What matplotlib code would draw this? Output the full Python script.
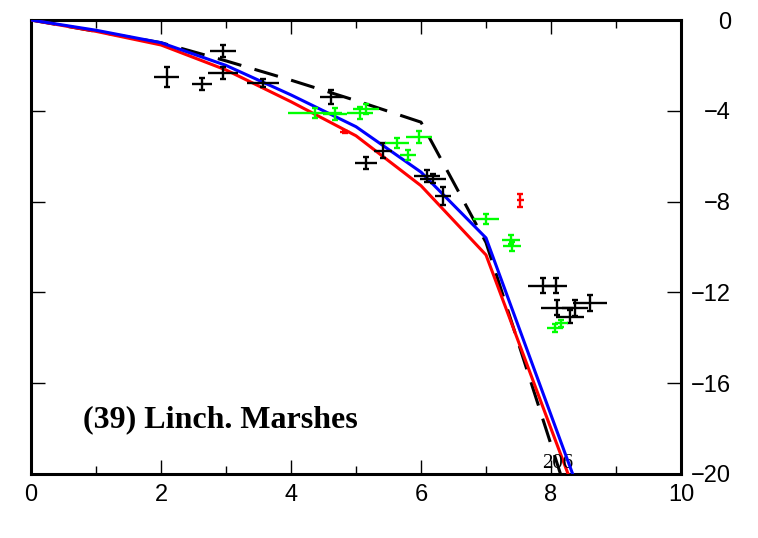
import numpy as np
import matplotlib
matplotlib.use("Agg")
import matplotlib.pyplot as plt
from matplotlib.ticker import MultipleLocator

# model curves (vertices at integer x)
xm = [0, 1, 2, 3, 4, 5, 6, 7, 8, 9]
blue_y = [0, -0.45, -1.0, -2.0, -3.3, -4.7, -6.7, -9.6, -17.4, -25.2]
red_y = [0, -0.5, -1.1, -2.2, -3.6, -5.1, -7.3, -10.35, -18.0, -25.6]
dash_y = [0, -0.5, -1.0, -1.8, -2.65, -3.55, -4.5, -9.8, -18.7, -27.6]

# observations: x, y, xerr, yerr
blk_x = [2.09, 2.63, 2.95, 2.96, 3.57, 4.62, 5.16, 5.41, 6.09, 6.18, 6.34, 7.87, 8.08, 8.09, 8.60, 8.37, 8.29]
blk_y = [-2.50, -2.83, -2.35, -1.35, -2.76, -3.39, -6.29, -5.75, -6.87, -7.00, -7.75, -11.70, -11.70, -12.67, -12.48, -12.69, -13.07]
blk_xe = [0.19, 0.15, 0.23, 0.20, 0.25, 0.18, 0.17, 0.14, 0.20, 0.20, 0.12, 0.22, 0.17, 0.25, 0.26, 0.20, 0.22]
blk_ye = [0.44, 0.26, 0.26, 0.26, 0.18, 0.30, 0.26, 0.35, 0.26, 0.20, 0.40, 0.33, 0.33, 0.33, 0.35, 0.35, 0.30]

grn_x = [4.37, 4.68, 5.06, 5.15, 5.63, 5.97, 5.80, 7.00, 7.39, 7.40, 8.06, 8.16]
grn_y = [-4.10, -4.14, -4.10, -3.92, -5.43, -5.17, -5.95, -8.77, -9.69, -9.96, -13.57, -13.36]
grn_xe = [0.42, 0.18, 0.20, 0.20, 0.18, 0.20, 0.12, 0.20, 0.14, 0.14, 0.12, 0.10]
grn_ye = [0.22, 0.26, 0.26, 0.22, 0.22, 0.26, 0.22, 0.22, 0.20, 0.20, 0.18, 0.15]

red_x = [7.53, 4.83]
red_py = [-7.95, -4.92]
red_xe = [0.06, 0.08]
red_ye = [0.27, 0.05]

fig = plt.figure(figsize=(7.58, 5.38), dpi=100)
ax = fig.add_axes([0.0409, 0.119, 0.8575, 0.8438])

ax.plot(xm, dash_y, color="black", lw=2.2, dashes=(8, 4.5), zorder=2)
ax.plot(xm, red_y, color="#ff0000", lw=2.2, zorder=3)
ax.plot(xm, blue_y, color="#0000ff", lw=2.2, zorder=4)

for xs, ys, xe, ye, c in [(blk_x, blk_y, blk_xe, blk_ye, "black"),
                          (grn_x, grn_y, grn_xe, grn_ye, "#00ff00"),
                          (red_x, red_py, red_xe, red_ye, "#ff0000")]:
    ax.errorbar(xs, ys, yerr=ye, fmt="none", ecolor=c, elinewidth=1.7, capsize=2.5, capthick=1.7, zorder=5)
    ax.errorbar(xs, ys, xerr=xe, fmt="none", ecolor=c, elinewidth=1.7, capsize=0, zorder=5)

ax.text(0.8, -17.6, "(39) Linch. Marshes", family="Liberation Serif", fontweight="bold",
        fontsize=23, va="center", ha="left")
ax.text(8.11, -19.95, "206", family="Liberation Serif", fontsize=15, va="bottom", ha="center")

ax.set_xlim(0, 10)
ax.set_ylim(-20, 0)
ax.xaxis.set_major_locator(MultipleLocator(2))
ax.xaxis.set_minor_locator(MultipleLocator(1))
ax.yaxis.set_major_locator(MultipleLocator(4))

for s in ax.spines.values():
    s.set_linewidth(2.2)

ax.tick_params(axis="x", which="major", direction="in", length=10, width=1, top=True,
               labelsize=17, pad=7)
ax.tick_params(axis="x", which="minor", direction="in", length=5.5, width=1, top=True)
ax.tick_params(axis="y", which="major", direction="in", length=10, width=1, left=True, right=True,
               labelleft=False, labelright=True, labelsize=17, pad=36)
for lab in ax.get_yticklabels():
    lab.set_horizontalalignment("right")
for lab in ax.get_xticklabels() + ax.get_yticklabels():
    lab.set_family("Liberation Sans")

fig.savefig("out.png", dpi=100)
